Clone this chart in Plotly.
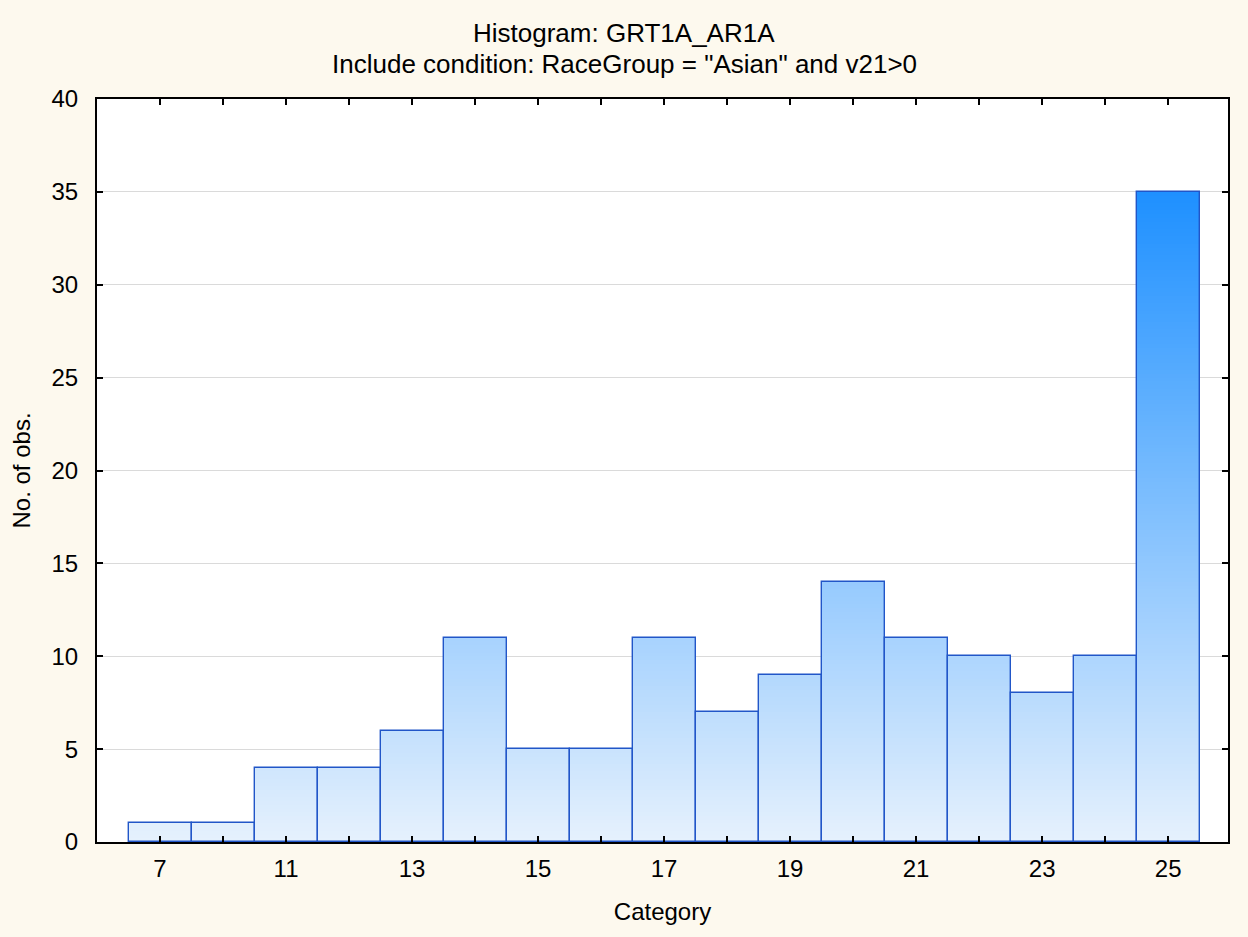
import plotly.graph_objects as go

# ---- data ----
categories = [7, 10, 11, 12, 13, 14, 15, 16, 17, 18, 19, 20, 21, 22, 23, 24, 25]
counts = [1, 1, 4, 4, 6, 11, 5, 5, 11, 7, 9, 14, 11, 10, 8, 10, 35]
tick_labels = [str(c) if i % 2 == 0 else "" for i, c in enumerate(categories)]
title_lines = ["Histogram: GRT1A_AR1A", 'Include condition: RaceGroup = "Asian" and v21>0']

# ---- gradient fill (colour depends on height in the y scale) ----
bottom_rgb = (230, 241, 253)
top_rgb = (30, 144, 255)
top_val = max(counts)
step = 0.2

def col(level):
    f = min(max(level / top_val, 0), 1)
    r, g, b = (round(bottom_rgb[k] + (top_rgb[k] - bottom_rgb[k]) * f) for k in range(3))
    return f"rgb({r},{g},{b})"

seg_x, seg_base, seg_h, seg_c = [], [], [], []
for i, v in enumerate(counts):
    k = 0.0
    while k < v - 1e-9:
        h = min(step, v - k)
        seg_x.append(i)
        seg_base.append(k)
        seg_h.append(h)
        seg_c.append(col(k + h / 2))
        k += step

xs = list(range(len(categories)))

fig = go.Figure()
fig.add_trace(go.Bar(
    x=seg_x, y=seg_h, base=seg_base, width=1.0,
    marker=dict(color=seg_c, line=dict(width=0)),
    hoverinfo="skip", showlegend=False,
))
fig.add_trace(go.Bar(
    x=xs, y=counts, width=1.0,
    marker=dict(color="rgba(0,0,0,0)", line=dict(color="#2156c8", width=1.4)),
    showlegend=False,
))

W, H = 1248, 937
ml, mr, mt, mb = 97, 20, 99, 95
pw, ph = W - ml - mr, H - mt - mb

def px_to_paper(px_x, px_y):
    return (px_x - ml) / pw, (H - mb - px_y) / ph

title_centers_px = [(624, 33), (624, 64)]
annotations = []
for text, (cx, cy) in zip(title_lines, title_centers_px):
    ax_, ay_ = px_to_paper(cx, cy)
    annotations.append(dict(text=text, xref="paper", yref="paper", x=ax_, y=ay_,
                            xanchor="center", yanchor="middle", showarrow=False,
                            font=dict(size=26)))

font_family = "Liberation Sans, Arial, sans-serif"
fig.update_layout(
    width=W, height=H,
    barmode="overlay", bargap=0,
    paper_bgcolor="#fdf9ee", plot_bgcolor="white",
    margin=dict(l=ml, r=mr, t=mt, b=mb),
    font=dict(family=font_family, size=24, color="black"),
    annotations=annotations,
    xaxis=dict(
        range=[-1.0, 16.95], tickvals=xs, ticktext=tick_labels,
        ticks="inside", ticklen=6, tickwidth=2, tickcolor="black",
        ticklabelstandoff=4,
        showline=True, linecolor="black", linewidth=2, mirror="allticks",
        showgrid=False, zeroline=False,
        title=dict(text="Category", standoff=22, font=dict(size=24)),
    ),
    yaxis=dict(
        range=[0, 40], dtick=5,
        ticks="inside", ticklen=6, tickwidth=2, tickcolor="black",
        ticklabelstandoff=12,
        showline=True, linecolor="black", linewidth=2, mirror="allticks",
        showgrid=True, gridcolor="#dadada", gridwidth=1, zeroline=False,
        title=dict(text="No. of obs.", standoff=14, font=dict(size=24)),
    ),
)

fig.write_html("out.html", config={"displayModeBar": False},
               post_script="document.body.style.margin='0';document.body.style.overflow='hidden';")
